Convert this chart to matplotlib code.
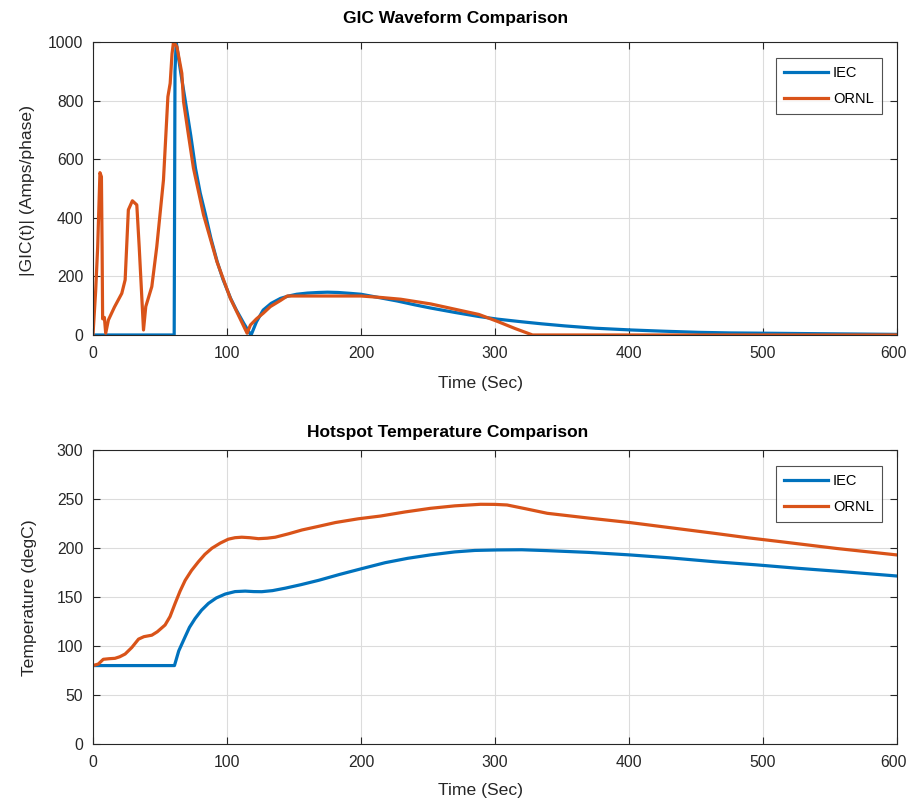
import numpy as np
import matplotlib.pyplot as plt
from matplotlib.transforms import ScaledTranslation

plt.rcParams['font.family'] = ['Liberation Sans', 'DejaVu Sans']

# GIC waveform (Amps/phase)
t_gic_iec = [0, 60.6, 61.2, 62.1, 65.5, 69, 73, 76.5, 80, 84, 88, 92.7, 97, 102.7, 107, 112.5, 117.5,
             118, 122, 127, 133, 140, 146, 152, 160, 168, 175, 183, 192, 200, 213, 227, 240,
             252, 270, 288, 302, 320, 335, 352, 375, 402, 425, 452, 475, 502, 550, 600]
gic_iec = [0, 0, 900, 1000, 895, 796, 680, 569, 485, 410, 330, 250, 190, 125, 85, 40, 2,
           0, 45, 85, 108, 125, 133, 139, 143, 145, 146, 145, 142, 139, 128, 116, 103,
           92, 77, 63, 54, 45, 38, 31, 23, 17, 13, 9, 7, 6, 4, 2]

t_gic_ornl = [0, 2, 3.5, 5.2, 6.3, 6.8, 7.2, 8.5, 9.5, 11.5, 16, 21.5, 24, 26.4, 29.4, 32.7, 34.5,
              37.7, 39.4, 43.9, 47.6, 52.6, 55.9, 57.6, 59, 60.1, 62.6, 66.3, 67.6, 71, 75,
              82.5, 92.5, 102.5, 115, 117.5, 122, 127, 132.4, 140, 145, 170, 200, 215, 229.7,
              252, 270, 288, 302, 315, 328, 400, 500, 600]
gic_ornl = [0, 150, 300, 554, 540, 300, 55, 60, 6, 51, 95, 142, 188, 427, 458, 444, 300,
            17, 97, 165, 301, 529, 813, 859, 960, 1000, 984, 893, 796, 690, 569,
            410, 250, 125, 6, 34, 55, 74, 97, 118, 133, 133, 133, 128, 122,
            106, 88, 70, 46, 22, 0, 0, 0, 0]

# hotspot temperature (degC)
t_hs_iec = [0, 60.8, 64, 68.8, 72, 76.2, 81, 86.2, 92, 98.7, 106, 113.6, 120, 126, 134, 143.5,
            155, 168.4, 184, 200.8, 218, 235, 252, 270, 285, 301.7, 320, 339, 370, 401,
            430, 463.6, 495, 525.8, 560, 600]
hs_iec = [80, 80, 95, 109.5, 119, 128, 136.5, 143.5, 149, 153, 155.5, 156, 155.5, 155.4, 156.5, 159,
          162.5, 167, 173, 179, 185, 189.5, 193, 196, 197.5, 198, 198.2, 197.3, 195.5, 192.9,
          190, 186, 182.8, 179.3, 175.8, 171.4]

t_hs_ornl = [0, 4, 7.7, 12, 16.4, 20, 24, 29, 34, 38, 43.9, 48, 53.8, 57.5, 61.3, 65, 68.8,
             73.5, 78.7, 83.5, 88.7, 95, 101, 106, 111, 117, 123.5, 130, 136, 146, 156,
             168, 181, 198, 214.5, 233, 251.9, 270, 289.2, 300, 309, 323, 339, 370, 401,
             432, 463.6, 490, 513.5, 555, 600]
hs_ornl = [80, 81.6, 86.4, 87, 87.4, 89, 91.8, 98.5, 107, 109.5, 111, 114.5, 121.4, 130, 143.5, 156, 167,
           177, 186, 193.5, 199.7, 205, 209, 210.5, 211, 210.5, 209.5, 210, 211, 214.5, 218.4,
           222, 226, 229.8, 232.6, 236.8, 240.5, 243, 244.6, 244.5, 243.9, 240, 235.4, 230.5, 225.9,
           220.5, 215, 210.2, 206.4, 199.5, 192.9]

blue = '#0072BD'
orange = '#D95319'
W, H = 908, 801

fig = plt.figure(figsize=(9.08, 8.01), dpi=100)
ax1 = fig.add_axes([0.1024, 0.5818, 0.8855, 0.3658])
ax2 = fig.add_axes([0.1024, 0.0712, 0.8855, 0.3670])


def style(ax):
    ax.grid(True, color='#dcdcdc', linewidth=0.8)
    ax.set_axisbelow(True)
    for s in ax.spines.values():
        s.set_color('#262626')
        s.set_linewidth(0.8)
    ax.tick_params(direction='in', length=5, width=0.8, colors='#262626',
                   labelsize=11.3, top=True, right=True)
    ax.tick_params(axis='x', pad=8)
    ax.tick_params(axis='y', pad=7)
    ax.set_xlim(0, 600)
    ax.set_xticks(np.arange(0, 601, 100))
    # nudge the last x label so it stays inside the image
    lab = ax.get_xticklabels()[-1]
    lab.set_transform(lab.get_transform() + ScaledTranslation(-0.04, 0, fig.dpi_scale_trans))


def legend(ax):
    leg = ax.legend(loc='upper right', bbox_to_anchor=(0.981, 0.945), fontsize=10.5,
                    frameon=True, fancybox=False, edgecolor='#262626',
                    handlelength=3.0, borderpad=0.55, labelspacing=0.8, handletextpad=0.35,
                    borderaxespad=0)
    leg.get_frame().set_linewidth(0.8)


def ftext(x, y, s, color='#262626', **kw):
    fig.text(x / W, 1 - y / H, s, ha='center', va='center', color=color, **kw)


ax1.plot(t_gic_iec, gic_iec, color=blue, lw=2.3, label='IEC')
ax1.plot(t_gic_ornl, gic_ornl, color=orange, lw=2.3, label='ORNL')
style(ax1)
ax1.set_ylim(0, 1000)
ax1.set_yticks(np.arange(0, 1001, 200))
legend(ax1)

ax2.plot(t_hs_iec, hs_iec, color=blue, lw=2.3, label='IEC')
ax2.plot(t_hs_ornl, hs_ornl, color=orange, lw=2.3, label='ORNL')
style(ax2)
ax2.set_ylim(0, 300)
ax2.set_yticks(np.arange(0, 301, 50))
legend(ax2)

ftext(456, 18, 'GIC Waveform Comparison', fontsize=12.5, fontweight='bold', color='black')
ftext(448, 432, 'Hotspot Temperature Comparison', fontsize=12.5, fontweight='bold', color='black')
ftext(481, 383, 'Time (Sec)', fontsize=12.6)
ftext(481, 790, 'Time (Sec)', fontsize=12.6)
ftext(28, 190, '|GIC(t)| (Amps/phase)', fontsize=12.6, rotation=90)
ftext(30, 598, 'Temperature (degC)', fontsize=12.6, rotation=90)

fig.savefig('out.png', dpi=100, facecolor='white')
